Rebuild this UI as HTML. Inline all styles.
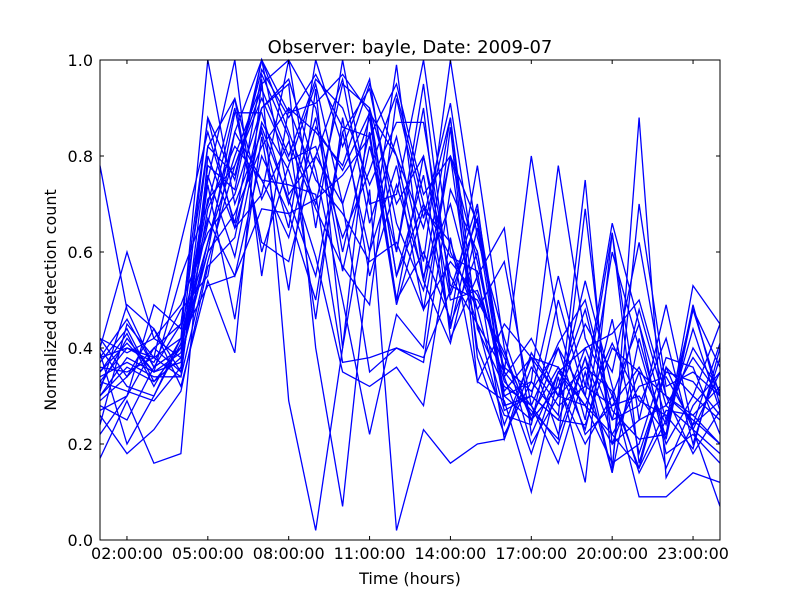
<!DOCTYPE html>
<html><head><meta charset="utf-8"><style>
body{margin:0;background:#fff;}
svg text{font-family:"DejaVu Sans","Liberation Sans",sans-serif;}
</style></head><body>
<svg id="chart" width="800" height="600" xmlns="http://www.w3.org/2000/svg">
<rect x="0" y="0" width="800" height="600" fill="#fff"/>
<g id="lines"></g>
<rect x="100" y="60" width="620" height="480" fill="none" stroke="#000" stroke-width="1"/>
<g id="axes"></g>
<text x="410" y="53" font-size="18" text-anchor="middle">Observer: bayle, Date: 2009-07</text>
<text x="410" y="584" font-size="16" text-anchor="middle">Time (hours)</text>
<text x="56" y="300" font-size="16" text-anchor="middle" transform="rotate(-90 56 300)">Normalized detection count</text>
</svg>
<script>
const hours = [1,2,3,4,5,6,7,8,9,10,11,12,13,14,15,16,17,18,19,20,21,22,23,24];
const xTickHours = [2,5,8,11,14,17,20,23];
const xTickLabels = ["02:00:00","05:00:00","08:00:00","11:00:00","14:00:00","17:00:00","20:00:00","23:00:00"];
const yTicks = [0,0.2,0.4,0.6,0.8,1.0];
const yTickLabels = ["0.0","0.2","0.4","0.6","0.8","1.0"];
const s1 = [0.78,0.48,0.36,0.40,0.88,0.75,1.00,0.85,0.70,0.95,0.90,0.55,0.70,0.45,0.60,0.30,0.25,0.40,0.30,0.20,0.35,0.30,0.25,0.20];
const s2 = [0.40,0.60,0.42,0.38,0.62,0.80,0.95,1.00,0.90,0.60,0.85,0.50,0.80,0.55,0.45,0.35,0.80,0.45,0.25,0.60,0.40,0.20,0.30,0.45];
const s3 = [0.30,0.38,0.35,0.55,0.70,0.92,0.60,0.78,0.95,0.70,0.35,0.40,0.38,0.52,0.70,0.28,0.30,0.55,0.32,0.66,0.45,0.25,0.48,0.30];
const s4 = [0.35,0.43,0.32,0.42,1.00,0.70,0.85,0.65,1.00,0.82,0.96,0.60,0.90,0.42,0.55,0.65,0.22,0.35,0.40,0.25,0.28,0.42,0.20,0.38];
const s5 = [0.28,0.25,0.36,0.40,0.75,1.00,0.55,0.90,0.85,0.78,0.95,0.80,0.65,0.88,0.44,0.32,0.28,0.20,0.38,0.22,0.15,0.36,0.30,0.25];
const s6 = [0.38,0.40,0.37,0.48,0.55,0.85,1.00,0.72,0.80,0.70,0.88,0.50,0.60,0.46,0.78,0.40,0.20,0.30,0.45,0.35,0.62,0.30,0.18,0.27];
const s7 = [0.26,0.18,0.23,0.31,0.57,0.63,0.90,0.95,0.40,0.07,0.60,0.78,0.48,0.58,0.51,0.38,0.26,0.36,0.28,0.16,0.20,0.38,0.36,0.22];
const s8 = [0.32,0.42,0.35,0.37,0.82,0.76,0.98,0.88,0.97,0.86,0.84,0.95,0.72,0.80,0.66,0.34,0.42,0.30,0.54,0.32,0.14,0.25,0.40,0.31];
const s9 = [0.22,0.30,0.40,0.45,0.88,0.65,0.72,1.00,0.65,1.00,0.70,0.72,1.00,0.60,0.48,0.27,0.30,0.25,0.24,0.40,0.35,0.15,0.28,0.35];
const s10= [0.36,0.35,0.38,0.42,0.53,0.55,0.69,0.68,0.50,0.85,0.60,0.99,0.54,0.88,0.38,0.22,0.33,0.78,0.42,0.30,0.45,0.18,0.22,0.16];
const s11= [0.42,0.34,0.44,0.35,0.74,0.46,0.84,0.52,0.94,0.40,0.90,0.70,0.80,0.50,0.52,0.36,0.31,0.40,0.22,0.28,0.30,0.22,0.53,0.45];
const s12= [0.30,0.36,0.33,0.40,0.66,0.90,0.62,0.58,0.80,0.96,0.66,0.84,0.58,1.00,0.63,0.42,0.25,0.32,0.48,0.25,0.48,0.28,0.23,0.35];
const s13= [0.24,0.45,0.38,0.34,0.78,0.73,1.00,0.89,0.91,0.97,0.89,0.80,0.54,0.41,0.65,0.30,0.33,0.26,0.75,0.15,0.70,0.32,0.35,0.30];
const s14= [0.40,0.32,0.30,0.41,0.60,0.68,0.82,0.90,0.75,0.68,0.58,0.62,0.48,0.80,0.40,0.26,0.24,0.50,0.30,0.64,0.25,0.28,0.38,0.30];
const s15= [0.35,0.41,0.35,0.39,0.71,0.78,0.92,0.79,0.82,0.63,0.77,0.93,0.70,0.59,0.56,0.21,0.36,0.28,0.32,0.28,0.36,0.24,0.44,0.27];
const s16= [0.31,0.49,0.44,0.32,0.54,0.39,0.96,0.29,0.02,0.40,0.73,0.02,0.23,0.16,0.20,0.21,0.39,0.30,0.36,0.31,0.09,0.09,0.14,0.12];
const s17= [0.39,0.20,0.30,0.42,0.62,0.85,0.75,0.74,0.72,0.37,0.38,0.40,0.37,0.73,0.60,0.28,0.30,0.25,0.40,0.43,0.50,0.30,0.26,0.20];
const s18= [0.17,0.29,0.16,0.18,0.80,0.65,0.86,0.71,0.55,0.85,0.94,0.66,0.52,0.80,0.58,0.31,0.38,0.30,0.28,0.41,0.29,0.26,0.19,0.40];
const s19= [0.33,0.31,0.29,0.36,0.69,0.82,0.75,0.63,0.86,0.77,0.89,0.55,0.76,0.44,0.69,0.34,0.18,0.35,0.28,0.22,0.32,0.34,0.24,0.29];
const s20= [0.38,0.46,0.36,0.45,0.82,0.92,0.71,0.83,0.69,0.57,0.49,0.92,0.67,0.91,0.54,0.33,0.27,0.21,0.69,0.20,0.25,0.49,0.23,0.18];
const s21= [0.29,0.34,0.40,0.35,0.76,0.59,0.87,0.77,0.59,0.35,0.32,0.36,0.28,0.63,0.33,0.29,0.10,0.34,0.12,0.64,0.16,0.36,0.23,0.07];
const s22= [0.42,0.39,0.42,0.49,0.64,0.72,0.90,0.96,0.77,0.50,0.22,0.47,0.40,0.86,0.33,0.45,0.38,0.22,0.38,0.14,0.42,0.21,0.48,0.36];
const s23= [0.34,0.37,0.34,0.34,0.58,0.78,0.94,0.80,0.96,0.90,0.74,0.87,0.87,0.53,0.50,0.39,0.25,0.32,0.20,0.30,0.15,0.27,0.26,0.32];
const s24= [0.27,0.30,0.49,0.44,0.67,0.55,0.80,0.68,0.71,0.76,0.84,0.49,0.69,0.62,0.45,0.24,0.38,0.36,0.23,0.46,0.18,0.35,0.33,0.26];
const s25= [0.33,0.40,0.38,0.62,0.85,0.66,0.97,0.84,0.46,0.88,0.55,0.74,0.55,0.70,0.48,0.58,0.28,0.16,0.35,0.14,0.88,0.13,0.24,0.41];
const s26= [0.37,0.44,0.33,0.38,0.60,0.89,0.89,0.70,0.88,0.56,0.82,0.60,0.95,0.51,0.67,0.35,0.28,0.41,0.50,0.27,0.21,0.22,0.49,0.28];
const allSeries = [s1,s2,s3,s4,s5,s6,s7,s8,s9,s10,s11,s12,s13,s14,s15,s16,s17,s18,s19,s20,s21,s22,s23,s24,s25,s26];

const X0=100,X1=720,Y0=540,Y1=60;
function xScale(h){return X0+(h-1)*(X1-X0)/23;}
function yScale(v){return Y0-v*(Y0-Y1);}
const NS="http://www.w3.org/2000/svg";
const lg=document.getElementById('lines');
allSeries.forEach((s,i)=>{
  const p=document.createElementNS(NS,'polyline');
  p.setAttribute('points',s.map((v,j)=>xScale(hours[j]).toFixed(1)+','+yScale(v).toFixed(1)).join(' '));
  p.setAttribute('fill','none');p.setAttribute('stroke','#0000ff');p.setAttribute('stroke-width','1.3');
  
  
  lg.appendChild(p);
});
const ax=document.getElementById('axes');
xTickHours.forEach((h,i)=>{
  const x=xScale(h);
  [[Y0,Y0-4],[Y1,Y1+4]].forEach(([a,b])=>{
    const l=document.createElementNS(NS,'line');
    l.setAttribute('x1',x);l.setAttribute('x2',x);l.setAttribute('y1',a);l.setAttribute('y2',b);l.setAttribute('stroke','#000');
    
    
    ax.appendChild(l);
  });
  const t=document.createElementNS(NS,'text');
  t.setAttribute('x',x);t.setAttribute('y',559);t.setAttribute('font-size','16');t.setAttribute('text-anchor','middle');
  t.textContent=xTickLabels[i];
  
  
  ax.appendChild(t);
});
yTicks.forEach((v,i)=>{
  const y=yScale(v);
  [[X0,X0+4],[X1,X1-4]].forEach(([a,b])=>{
    const l=document.createElementNS(NS,'line');
    l.setAttribute('x1',a);l.setAttribute('x2',b);l.setAttribute('y1',y);l.setAttribute('y2',y);l.setAttribute('stroke','#000');
    
    
    ax.appendChild(l);
  });
  const t=document.createElementNS(NS,'text');
  t.setAttribute('x',93);t.setAttribute('y',y+6);t.setAttribute('font-size','16');t.setAttribute('text-anchor','end');
  t.textContent=yTickLabels[i];
  
  
  ax.appendChild(t);
});
</script>
</body></html>
